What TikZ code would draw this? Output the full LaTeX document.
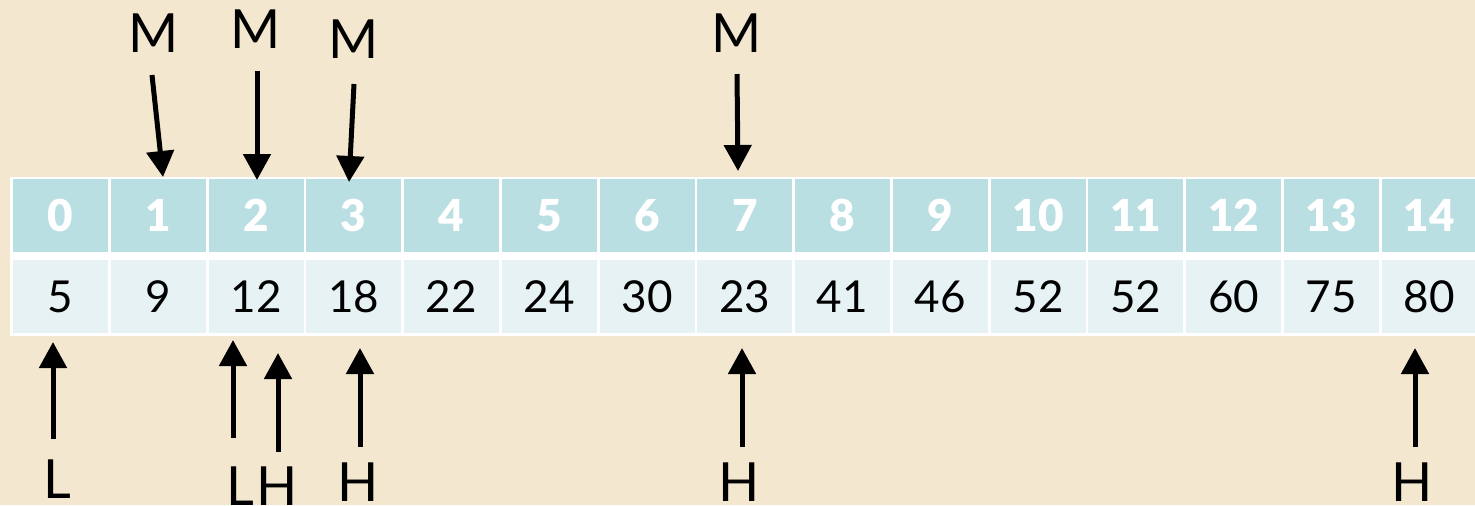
\documentclass[tikz,border=0pt]{standalone}
\usepackage{fontspec}
\setmainfont{Lato}[BoldFont={* Black}]
\usetikzlibrary{arrows.meta}
\definecolor{bgc}{HTML}{F3E8CF}
\definecolor{hdrc}{HTML}{BADFE2}
\definecolor{datc}{HTML}{E6F2F3}
\tikzset{
  hdrcell/.style={fill=hdrc,draw=none,minimum width=47.5pt,minimum height=36.5pt,inner sep=0pt,text=white,font=\fontsize{22}{25}\selectfont\bfseries},
  datcell/.style={fill=datc,draw=none,minimum width=47.5pt,minimum height=36.5pt,inner sep=0pt,text=black,font=\fontsize{22}{25}\selectfont},
  lbl/.style={inner sep=0pt,text=black,font=\fontsize{27}{30}\selectfont},
  arr/.style={line width=2.5pt,-{Triangle[width=13.5pt,length=13pt]}}
}
\begin{document}
\begin{tikzpicture}[x=0.5pt,y=-0.5pt]
\useasboundingbox (0,0) rectangle (1475,505);
\clip (0,0) rectangle (1475,505);
\fill[bgc] (0,0) rectangle (1475,505);
\fill[white] (10,177) rectangle (1490,336);
\foreach \v [count=\i from 0] in {5,9,12,18,22,24,30,23,41,46,52,52,60,75,80}{
  \node[hdrcell] (h\i) at ({60.5+97.75*\i},215.5) {\i};
  \node[datcell] (d\i) at ({60.5+97.75*\i},296.5) {\v};
}
% top M labels and arrows
\node[lbl] (m1) at (154,33) {M};
\node[lbl] (m2) at (256,29) {M};
\node[lbl] (m3) at (354,39) {M};
\node[lbl] (m4) at (737,33) {M};
\coordinate (m1s) at (152,75);  \coordinate (m1t) at (163,177);
\coordinate (m2s) at (257,71);  \coordinate (m2t) at (257,180);
\coordinate (m3s) at (354,84);  \coordinate (m3t) at (349,182);
\coordinate (m4s) at (737,74);  \coordinate (m4t) at (738,171);
\draw[arr] (m1s) -- (m1t);
\draw[arr] (m2s) -- (m2t);
\draw[arr] (m3s) -- (m3t);
\draw[arr] (m4s) -- (m4t);
% bottom labels and arrows
\node[lbl] (l1) at (57,479) {L};
\node[lbl] (l2) at (240,486) {L};
\node[lbl] (h2l) at (277,486) {H};
\node[lbl] (h3l) at (358,482) {H};
\node[lbl] (h4l) at (739,482) {H};
\node[lbl] (h5l) at (1412,482) {H};
\coordinate (l1s) at (53,439);   \coordinate (l1t) at (53,342);
\coordinate (l2s) at (233,438);  \coordinate (l2t) at (233,340);
\coordinate (h2s) at (278,452);  \coordinate (h2t) at (278,353);
\coordinate (h3s) at (360,447);  \coordinate (h3t) at (360,348);
\coordinate (h4s) at (742,447);  \coordinate (h4t) at (742,348);
\coordinate (h5s) at (1415,447); \coordinate (h5t) at (1415,348);
\draw[arr] (l1s) -- (l1t);
\draw[arr] (l2s) -- (l2t);
\draw[arr] (h2s) -- (h2t);
\draw[arr] (h3s) -- (h3t);
\draw[arr] (h4s) -- (h4t);
\draw[arr] (h5s) -- (h5t);
\end{tikzpicture}
\end{document}
